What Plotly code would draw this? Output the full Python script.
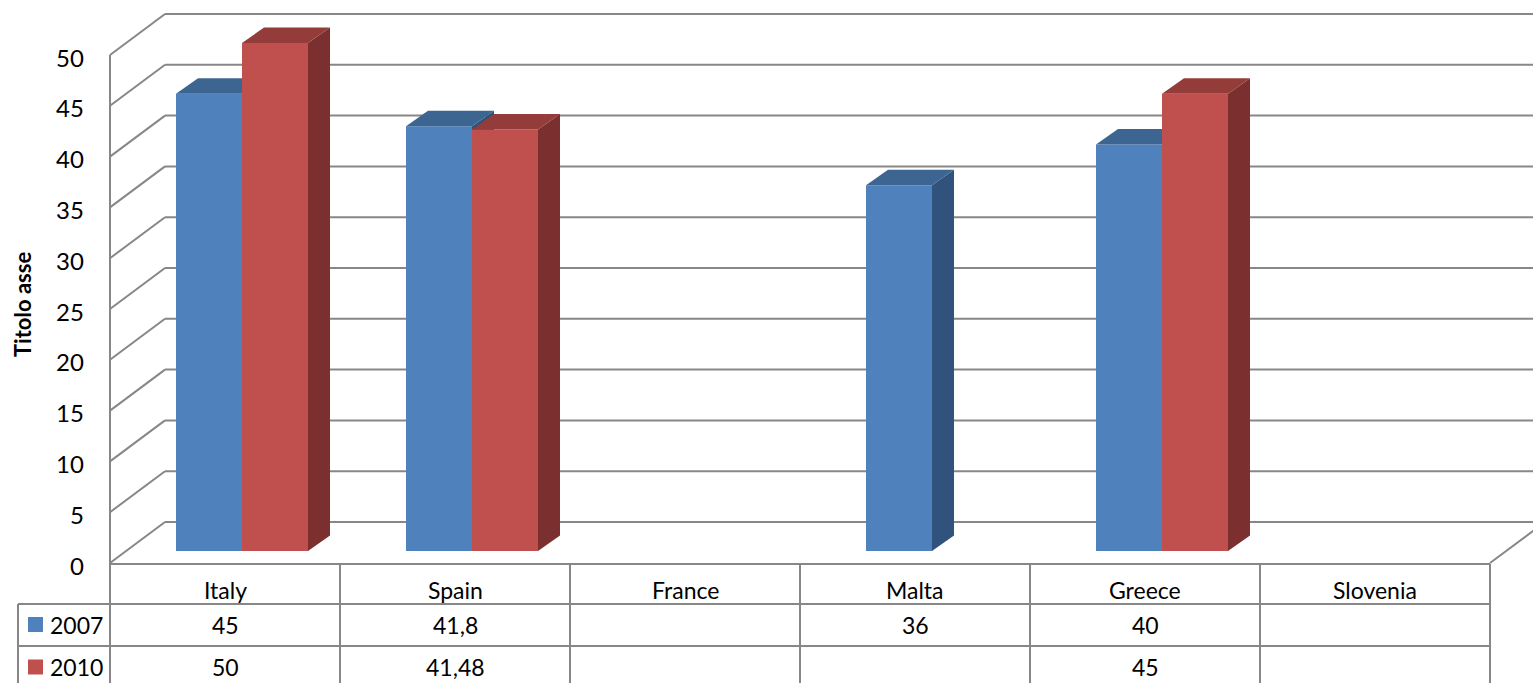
import plotly.graph_objects as go

# ---------------- data ----------------
categories = ["Italy", "Spain", "France", "Malta", "Greece", "Slovenia"]
series_names = ["2007", "2010"]
values_2007 = [45, 41.8, None, 36, 40, None]
values_2010 = [50, 41.48, None, None, 45, None]
y_ticks = [0, 5, 10, 15, 20, 25, 30, 35, 40, 45, 50]
axis_title = "Titolo asse"

# ---------------- styling / geometry ----------------
W, H = 1533, 683
COLW = 230.0            # px per category
X_LEFT = 110.0          # px of left edge of first category column
Y_BASE = 551.0          # px of value 0 on bar plane
SY = 10.16              # px per value unit
FONT = "Lato"

front_col = {"2007": "#4F81BD", "2010": "#C0504D"}
top_col = {"2007": "#3D6592", "2010": "#943C3A"}
side_col = {"2007": "#30527D", "2010": "#7B2F2E"}
grid_col = "#878787"

x_range = [-0.5 - X_LEFT / COLW, -0.5 + (W - X_LEFT) / COLW]
y_range = [-(H - Y_BASE) / SY, Y_BASE / SY]

BW = 66 / COLW
offsets = {"2007": -49 / COLW, "2010": 17 / COLW}
DX = 22 / COLW
DY = 15.5 / SY
FRONT_DV = -12 / SY     # front plane value offset
BACK_DV = 29 / SY       # back wall value offset
BACK_DX = 55 / COLW


def py(p):
    return 1 - p / H


def pxx(p):
    return p / W


fig = go.Figure()

series = [("2007", values_2007, "x", "y"), ("2010", values_2010, "x2", "y2")]
for name, vals, xa, ya in series:
    # side and top faces (3D look), computed from values
    for i, v in enumerate(vals):
        if v is None:
            continue
        x0 = i + offsets[name]
        x1 = x0 + BW
        fig.add_trace(go.Scatter(
            x=[x1, x1 + DX, x1 + DX, x1, x1], y=[0, DY, v + DY, v, 0],
            mode="lines", fill="toself", fillcolor=side_col[name],
            line=dict(width=0), hoverinfo="skip", showlegend=False,
            xaxis=xa, yaxis=ya))
        fig.add_trace(go.Scatter(
            x=[x0, x1, x1 + DX, x0 + DX, x0], y=[v, v, v + DY, v + DY, v],
            mode="lines", fill="toself", fillcolor=top_col[name],
            line=dict(width=0), hoverinfo="skip", showlegend=False,
            xaxis=xa, yaxis=ya))
    fig.add_trace(go.Bar(
        x=list(range(len(categories))), y=vals, name=name,
        width=BW, offset=offsets[name],
        marker=dict(color=front_col[name], line=dict(width=0)),
        showlegend=False, xaxis=xa, yaxis=ya))

shapes = []
line = dict(color=grid_col, width=2)
xl_front = -0.5
xl_back = -0.5 + BACK_DX
for t in y_ticks:
    # side wall diagonal
    shapes.append(dict(type="line", xref="x", yref="y", layer="below",
                       x0=xl_front, y0=t + FRONT_DV, x1=xl_back, y1=t + BACK_DV, line=line))
    # back wall gridline
    shapes.append(dict(type="line", xref="x", yref="y", layer="below",
                       x0=xl_back, y0=t + BACK_DV, x1=x_range[1] + 0.1, y1=t + BACK_DV, line=line))
# front vertical edge of side wall
shapes.append(dict(type="line", xref="x", yref="y", layer="below",
                   x0=xl_front, y0=y_range[0], x1=xl_front, y1=y_ticks[-1] + FRONT_DV, line=line))
# floor right diagonal
n = len(categories)
shapes.append(dict(type="line", xref="x", yref="y", layer="below",
                   x0=n - 0.5, y0=FRONT_DV, x1=n - 0.5 + BACK_DX, y1=BACK_DV, line=line))

# ---------------- data table ----------------
row_top = [564, 604, 646]
row_mid = [590, 624.5, 667]
# horizontal lines
shapes.append(dict(type="line", xref="x", yref="paper", layer="below",
                   x0=-0.5, x1=n - 0.5, y0=py(row_top[0]), y1=py(row_top[0]), line=line))
for r in row_top[1:]:
    shapes.append(dict(type="line", xref="paper", yref="paper", layer="below",
                       x0=pxx(18), x1=pxx(X_LEFT + n * COLW), y0=py(r), y1=py(r), line=line))
# vertical lines
for k in range(n + 1):
    shapes.append(dict(type="line", xref="x", yref="paper", layer="below",
                       x0=k - 0.5, x1=k - 0.5, y0=py(row_top[0]), y1=0, line=line))
shapes.append(dict(type="line", xref="paper", yref="paper", layer="below",
                   x0=pxx(18), x1=pxx(18), y0=py(row_top[1]), y1=0, line=line))

annotations = []
for i, c in enumerate(categories):
    annotations.append(dict(x=i, y=py(row_mid[0]), xref="x", yref="paper", text=c,
                            showarrow=False, xanchor="center", yanchor="middle",
                            font=dict(family=FONT, size=23, color="#000000")))


def fmt(v):
    if v is None:
        return ""
    return str(v).replace(".", ",")


for r, (name, vals, _, _) in enumerate(series):
    ymid = row_mid[r + 1]
    shapes.append(dict(type="rect", xref="paper", yref="paper", layer="above",
                       x0=pxx(28), x1=pxx(43), y0=py(ymid - 7.5), y1=py(ymid + 7.5),
                       fillcolor=front_col[name], line=dict(width=0)))
    annotations.append(dict(x=pxx(48), y=py(ymid), xref="paper", yref="paper", text=name,
                            showarrow=False, xanchor="left", yanchor="middle",
                            font=dict(family=FONT, size=23, color="#000000")))
    for i, v in enumerate(vals):
        s = fmt(v)
        if s:
            annotations.append(dict(x=i, y=py(ymid), xref="x", yref="paper", text=s,
                                    showarrow=False, xanchor="center", yanchor="middle",
                                    font=dict(family=FONT, size=23, color="#000000")))

# y tick labels on the front plane
for t in y_ticks:
    annotations.append(dict(x=pxx(86), y=t + FRONT_DV, xref="paper", yref="y", text=str(t),
                            showarrow=False, xanchor="right", yanchor="middle", yshift=-2,
                            font=dict(family=FONT, size=24, color="#000000")))

# axis title
annotations.append(dict(x=pxx(23), y=py(305), xref="paper", yref="paper", text="<b>" + axis_title + "</b>",
                        showarrow=False, textangle=-90, xanchor="center", yanchor="middle",
                        font=dict(family=FONT, size=22, color="#000000")))

ax = dict(visible=False, showgrid=False, zeroline=False, fixedrange=True)
fig.update_layout(
    width=W, height=H,
    margin=dict(l=0, r=0, t=0, b=0),
    paper_bgcolor="#FFFFFF", plot_bgcolor="rgba(0,0,0,0)",
    barmode="overlay", showlegend=False,
    xaxis=dict(domain=[0, 1], range=x_range, **ax),
    yaxis=dict(domain=[0, 1], range=y_range, **ax),
    xaxis2=dict(overlaying="x", range=x_range, **ax),
    yaxis2=dict(overlaying="y", range=y_range, **ax),
    shapes=shapes, annotations=annotations,
)

fig.write_html(
    "out.html",
    config={"displayModeBar": False},
    post_script="document.body.style.margin='0';document.body.style.overflow='hidden';",
)
